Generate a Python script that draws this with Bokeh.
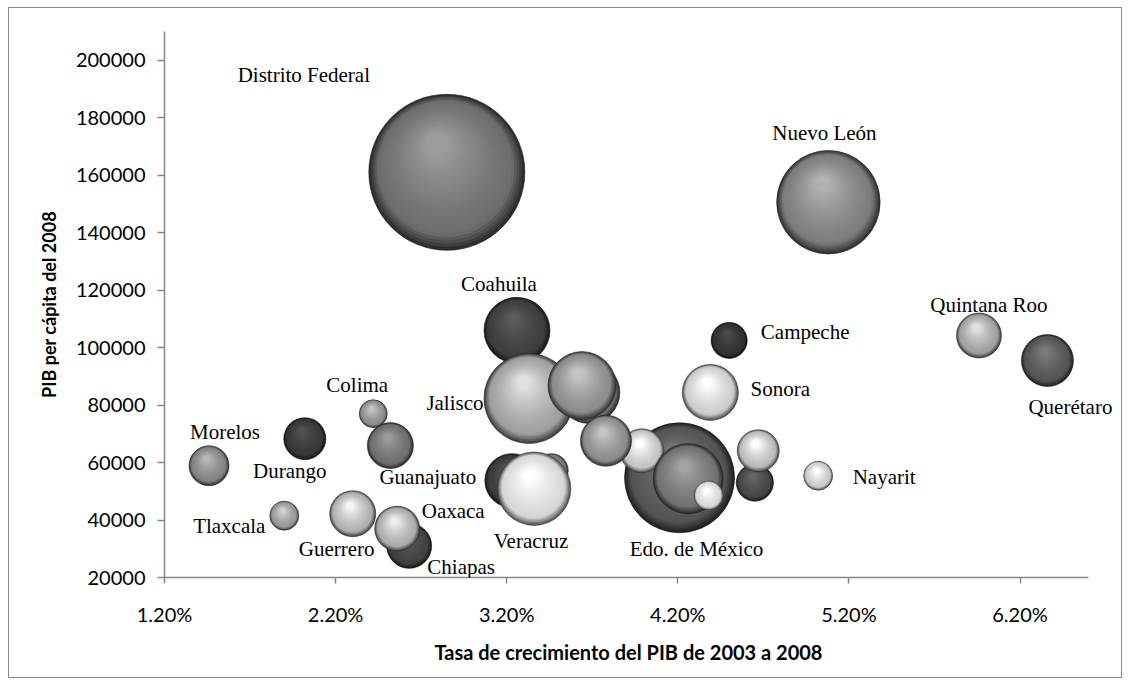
import numpy as np
from bokeh.plotting import figure
from bokeh.models import ColumnDataSource, FixedTicker, NumeralTickFormatter, Range1d, LabelSet, Title
from bokeh.embed import file_html
from bokeh.resources import INLINE
from bokeh.core.properties import value

# ---------------- data (drawing order: back to front) ----------------
estados = ["Distrito Federal", "Nuevo León", "Coahuila", "Jalisco", "", "",
           "Edo. de México", "", "", "", "", "Guanajuato", "", "Veracruz", "", "",
           "Campeche", "Sonora", "Nayarit", "Quintana Roo", "Querétaro", "Colima", "",
           "Durango", "Morelos", "Chiapas", "Oaxaca", "Guerrero", "Tlaxcala"]
# tasa de crecimiento del PIB 2003-2008 (%)
crecimiento = [2.85, 5.08, 3.26, 3.33, 3.68, 3.64,
               4.21, 3.99, 3.78, 4.26, 4.38, 3.23, 3.46, 3.36, 4.65, 4.67,
               4.50, 4.39, 5.02, 5.96, 6.36, 2.42, 2.52,
               2.02, 1.46, 2.63, 2.56, 2.30, 1.90]
# PIB per cápita 2008
pib_pc = [161000, 150600, 106000, 82300, 84400, 86800,
          54700, 64100, 67600, 54400, 48500, 53700, 57200, 50900, 53000, 64100,
          102500, 84400, 55400, 104200, 95500, 77000, 65900,
          68300, 58900, 31000, 37000, 42200, 41500]
# tamaño de burbuja (PIB total, unidades relativas)
pib_total = [2000, 880, 358, 666, 316, 380,
             994, 159, 214, 403, 69, 240, 95, 443, 113, 145,
             107, 258, 69, 166, 222, 64, 174,
             145, 131, 166, 166, 174, 69]

x_ticks = [1.2, 2.2, 3.2, 4.2, 5.2, 6.2]
y_ticks = [20000, 40000, 60000, 80000, 100000, 120000, 140000, 160000, 180000, 200000]

x_title = "Tasa de crecimiento del PIB de 2003 a 2008"
y_title = "PIB per cápita del 2008"

# ---------------- styles ----------------
tonos = [110, 125, 62, 160, 120, 140,
         85, 195, 140, 115, 215, 60, 120, 215, 70, 185,
         50, 205, 200, 160, 85, 140, 110,
         55, 130, 65, 170, 175, 150]
# label offsets in screen px (dx, dy; dy positive = down), baseline alphabetic
lab_dx = [-143, -4, -18, -74, 0, 0,
          17, 0, 0, 0, 0, -84, 0, -3, 0, 0,
          76, 70, 66, 10, 23, -16, 0,
          -15, 16, 52, 56, -16, -55]
lab_dy = [-90, -62, -39, 12, 0, 0,
          78, 0, 0, 0, 0, 3, 0, 59, 0, 0,
          -1, 4, 8, -24, 53, -22, 0,
          39, -27, 28, -11, 42, 17]

FW, FH = 924, 546
EXTRA = 30  # extra frame room on the right so labels are not clipped
X0, X1 = 0.012, 0.066
Y0, Y1 = 20000, 210000
ux = (X1 - X0) / FW
uy = (Y1 - Y0) / FH
R_MAX = 78.0
K = 30


def gh(v):
    v = int(max(0, min(255, round(v))))
    return "#%02x%02x%02x" % (v, v, v)


def lerp(a, b, t):
    return a + (b - a) * t


rows = dict(x=[], y=[], size=[], fill=[], line=[], la=[])
vmax = max(pib_total)
for i in range(len(estados)):
    cx = crecimiento[i] / 100.0
    cy = pib_pc[i]
    r = R_MAX * np.sqrt(pib_total[i] / vmax)
    g = tonos[i]
    edge = g * 0.42
    hl = min(255, g * 1.35 + 8)
    hx, hy = -0.12 * r, 0.36 * r
    for k in range(K):
        t = k / (K - 1)
        rad = r * (1 - 0.86 * t)
        if t < 0.15:
            col = lerp(edge, g, t / 0.15)
        else:
            col = lerp(g, hl, ((t - 0.15) / 0.85) ** 1.3)
        rows["x"].append(cx + hx * t * ux)
        rows["y"].append(cy + hy * t * uy)
        rows["size"].append(2 * rad)
        rows["fill"].append(gh(col))
        rows["line"].append(gh(g * 0.25))
        rows["la"].append(0.6 if k == 0 else 0.0)

src = ColumnDataSource(rows)

lab = dict(x=[], y=[], t=[], dx=[], dy=[])
for i, n in enumerate(estados):
    if n:
        lab["x"].append(crecimiento[i] / 100.0)
        lab["y"].append(pib_pc[i])
        lab["t"].append(n)
        lab["dx"].append(lab_dx[i])
        lab["dy"].append(-lab_dy[i])
lsrc = ColumnDataSource(lab)

p = figure(frame_width=FW + EXTRA, frame_height=FH,
           x_range=Range1d(X0, X1 + EXTRA * ux), y_range=Range1d(Y0, Y1),
           output_backend="svg", toolbar_location=None,
           min_border_left=155, min_border_right=33 - EXTRA, min_border_top=23, min_border_bottom=100,
           background_fill_color="white", border_fill_color="white")
p.styles = {"border": "1px solid #8a8a8a", "margin-left": "8px", "margin-top": "7px"}
p.outline_line_color = None
p.xgrid.visible = False
p.ygrid.visible = False

p.scatter(x="x", y="y", size="size", fill_color="fill", line_color="line",
          line_alpha="la", line_width=1, marker="circle", source=src)
labels = LabelSet(x="x", y="y", text="t", x_offset="dx", y_offset="dy", source=lsrc,
                  text_font=value("Liberation Serif"), text_font_size=value("21px"),
                  text_align="center", text_baseline="alphabetic", text_color="#000000")
p.add_layout(labels)

for ax in (p.xaxis[0], p.yaxis[0]):
    ax.axis_line_color = "#868686"
    ax.axis_line_width = 1.5
    ax.major_tick_line_color = "#868686"
    ax.major_tick_line_width = 1.5
    ax.major_tick_in = 0
    ax.minor_tick_line_color = None
    ax.major_label_text_font = "Lato"
    ax.major_label_text_font_size = "20px"
    ax.major_label_text_color = "#000000"
    ax.axis_label_text_font = "Lato"
    ax.axis_label_text_font_style = "bold"
    ax.axis_label_text_color = "#000000"

p.xaxis.bounds = (X0, X1)
p.xaxis.ticker = FixedTicker(ticks=[v / 100.0 for v in x_ticks])
p.xaxis.formatter = NumeralTickFormatter(format="0.00%")
p.xaxis.major_tick_out = 6
p.xaxis.major_label_standoff = 18

xt = Title(text=x_title, align="left", offset=270, standoff=19,
           text_font="Lato", text_font_style="bold", text_font_size="20px", text_color="#000000")
p.add_layout(xt, "below")

p.yaxis.ticker = FixedTicker(ticks=y_ticks)
p.yaxis.formatter = NumeralTickFormatter(format="0")
p.yaxis.major_tick_out = 7
p.yaxis.major_label_standoff = 12
p.yaxis.axis_label = y_title
p.yaxis.axis_label_text_font_size = "18px"
p.yaxis.axis_label_standoff = 13

open("out.html", "w").write(file_html(p, INLINE))
